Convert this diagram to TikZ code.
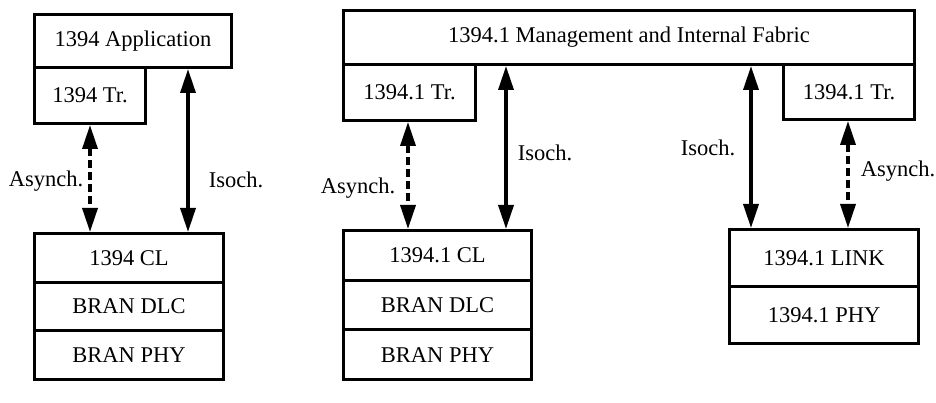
\documentclass[tikz,border=0pt]{standalone}
\usepackage{fontspec}
\setmainfont{Liberation Serif}
\usetikzlibrary{arrows.meta}
\begin{document}
\begin{tikzpicture}[x=1pt,y=-1pt,
  txt/.style={font=\fontsize{22.5}{26}\selectfont},
  layer/.style={draw, line width=3pt, inner sep=0pt, anchor=north west, txt},
  tipa/.tip={Triangle[length=24pt,width=15pt]},
  link/.style={line width=3.5pt, tipa-tipa},
  asy/.style={link, dash pattern=on 8pt off 4pt},
  lbl/.style={txt, inner sep=0pt}]
\useasboundingbox (0,0) rectangle (936,403);

% left node: application, transaction layer and BRAN stack
\node[layer, minimum width=197pt, minimum height=53pt] (app) at (33,13) {1394 Application};
\node[layer, minimum width=111pt, minimum height=56pt] (trA) at (33,66) {1394 Tr.};
\node[layer, minimum width=189pt, minimum height=48.7pt] (clA) at (33,232) {1394 CL};
\node[layer, minimum width=189pt, minimum height=48.7pt] (dlcA) at (33,280.7) {BRAN DLC};
\node[layer, minimum width=189pt, minimum height=48.7pt] (phyA) at (33,329.3) {BRAN PHY};

% bridge: management fabric with two portals
\node[layer, minimum width=571pt, minimum height=54pt] (mgmt) at (342,9) {1394.1 Management and Internal Fabric};
\node[layer, minimum width=132pt, minimum height=56pt] (trB) at (342,63) {1394.1 Tr.};
\node[layer, minimum width=131pt, minimum height=55pt] (trC) at (782,63) {1394.1 Tr.};
\node[layer, minimum width=188pt, minimum height=49.7pt] (clB) at (342,229) {1394.1 CL};
\node[layer, minimum width=188pt, minimum height=49.7pt] (dlcB) at (342,278.7) {BRAN DLC};
\node[layer, minimum width=188pt, minimum height=49.7pt] (phyB) at (342,328.4) {BRAN PHY};
\node[layer, minimum width=189pt, minimum height=57pt] (linkC) at (728,228) {1394.1 LINK};
\node[layer, minimum width=189pt, minimum height=57pt] (phyC) at (728,285) {1394.1 PHY};

% arrow columns
\coordinate (cA1) at (90,0);
\coordinate (cA2) at (188,0);
\coordinate (cB1) at (408,0);
\coordinate (cB2) at (506,0);
\coordinate (cC1) at (751,0);
\coordinate (cC2) at (848,0);

\draw[asy]  (trA.south -| cA1) -- (clA.north -| cA1);
\draw[link] (app.south -| cA2) -- (clA.north -| cA2);
\draw[asy]  (trB.south -| cB1) -- (clB.north -| cB1);
\draw[link] (mgmt.south -| cB2) -- (clB.north -| cB2);
\draw[link] (mgmt.south -| cC1) -- (linkC.north -| cC1);
\draw[asy]  (trC.south -| cC2) -- (linkC.north -| cC2);

% labels
\node[lbl] (lA1) at (46,181) {Asynch.};
\node[lbl] (lA2) at (236,180) {Isoch.};
\node[lbl] (lB1) at (358,188) {Asynch.};
\node[lbl] (lB2) at (545,153) {Isoch.};
\node[lbl] (lC1) at (708,148) {Isoch.};
\node[lbl] (lC2) at (898,171) {Asynch.};
\end{tikzpicture}
\end{document}
